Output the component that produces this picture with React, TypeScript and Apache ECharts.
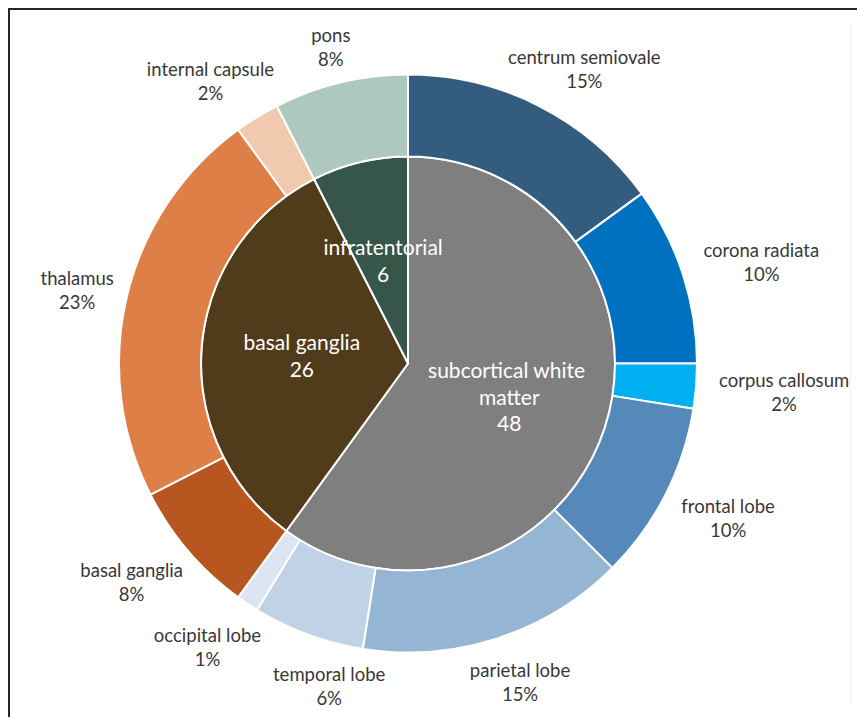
import React, { useEffect, useRef } from "react";
import * as echarts from "echarts";

// ---- data ----
const innerNames = ["subcortical white matter", "basal ganglia", "infratentorial"];
const innerValues = [48, 26, 6];
const innerColors = ["#7f7f7f", "#503c1a", "#37564a"];

const outerNames = [
  "centrum semiovale",
  "corona radiata",
  "corpus callosum",
  "frontal lobe",
  "parietal lobe",
  "temporal lobe",
  "occipital lobe",
  "basal ganglia",
  "thalamus",
  "internal capsule",
  "pons",
];
const outerValues = [12, 8, 2, 8, 12, 5, 1, 6, 18, 2, 6];
const outerPercentLabels = ["15%", "10%", "2%", "10%", "15%", "6%", "1%", "8%", "23%", "2%", "8%"];
const outerColors = [
  "#345c7e",
  "#0070c0",
  "#00b0f0",
  "#5589ba",
  "#94b5d4",
  "#c0d2e6",
  "#dce6f2",
  "#b7561f",
  "#dd7f46",
  "#f0c9ae",
  "#aec8be",
];

// ---- layout ----
const CX = 408;
const CY = 363.5;
const R_IN = 207;
const R_OUT = 289;
const LABEL_GAP = 9;
// small shifts mimicking the spreadsheet's best-fit label placement
const outerLabelAngleShift = [3.9, 1.9, -0.2, -1.2, -1.4, -6.5, 1.5, 2.2, -0.9, -3.5, -0.2];
const outerLabelRadialShift = [-14.5, 7.5, 12.5, 5, 0, -3, -1, -1, 0, -9.7, 0];
const FONT = "Lato, 'Noto Sans', sans-serif";

export default function App() {
  const ref = useRef<HTMLDivElement>(null);

  useEffect(() => {
    if (!ref.current) return;
    const chart = echarts.init(ref.current, null, { renderer: "svg" });
    const outerTotal = outerValues.reduce((a, b) => a + b, 0);

    const outerLayout = (params: any) => {
      const i = params.dataIndex;
      let cum = 0;
      for (let j = 0; j < i; j++) cum += outerValues[j];
      const mid = ((cum + outerValues[i] / 2) / outerTotal) * 360 + outerLabelAngleShift[i];
      const rad = (mid * Math.PI) / 180;
      const s = Math.sin(rad);
      const c = Math.cos(rad);
      const w = params.labelRect.width;
      const h = params.labelRect.height;
      const d =
        R_OUT + LABEL_GAP + outerLabelRadialShift[i] + (w / 2) * Math.abs(s) + (h / 2) * Math.abs(c);
      return { x: CX + d * s, y: CY - d * c, align: "center", verticalAlign: "middle" };
    };

    chart.setOption({
      animation: false,
      backgroundColor: "#ffffff",
      textStyle: { fontFamily: FONT },
      graphic: [
        { type: "line", shape: { x1: 9, y1: 8, x2: 9, y2: 717 }, style: { stroke: "#262626", lineWidth: 2 }, silent: true },
        { type: "line", shape: { x1: 8, y1: 9, x2: 857, y2: 9 }, style: { stroke: "#262626", lineWidth: 2 }, silent: true },
        { type: "line", shape: { x1: 850.5, y1: 25, x2: 850.5, y2: 703 }, style: { stroke: "#f0f0f0", lineWidth: 1 }, silent: true },
      ],
      series: [
        {
          type: "pie",
          name: "inner",
          center: [CX, CY],
          radius: [0, R_IN],
          startAngle: 90,
          clockwise: true,
          avoidLabelOverlap: false,
          silent: true,
          itemStyle: { borderColor: "#ffffff", borderWidth: 2 },
          label: {
            show: true,
            position: "inside",
            formatter: "{b}\n{c}",
            color: "#ffffff",
            fontFamily: FONT,
            fontSize: 21,
            lineHeight: 26.5,
            width: 180,
            overflow: "break",
            align: "center",
          },
          labelLine: { show: false },
          data: innerNames.map((n, i) => ({
            name: n,
            value: innerValues[i],
            itemStyle: { color: innerColors[i] },
          })),
        },
        {
          type: "pie",
          name: "outer",
          center: [CX, CY],
          radius: [R_IN, R_OUT],
          startAngle: 90,
          clockwise: true,
          avoidLabelOverlap: false,
          silent: true,
          itemStyle: { borderColor: "#ffffff", borderWidth: 2 },
          label: {
            show: true,
            position: "outside",
            formatter: (p: any) => `${p.name}\n${outerPercentLabels[p.dataIndex]}`,
            color: "#383838",
            fontFamily: FONT,
            fontSize: 18.5,
            lineHeight: 24,
            align: "center",
          },
          labelLine: { show: false },
          labelLayout: outerLayout,
          data: outerNames.map((n, i) => ({
            name: n,
            value: outerValues[i],
            itemStyle: { color: outerColors[i] },
          })),
        },
      ],
    });
    return () => chart.dispose();
  }, []);

  return (
    <div
      ref={ref}
      style={{ position: "absolute", left: 0, top: 0, width: 857, height: 717 }}
    />
  );
}
